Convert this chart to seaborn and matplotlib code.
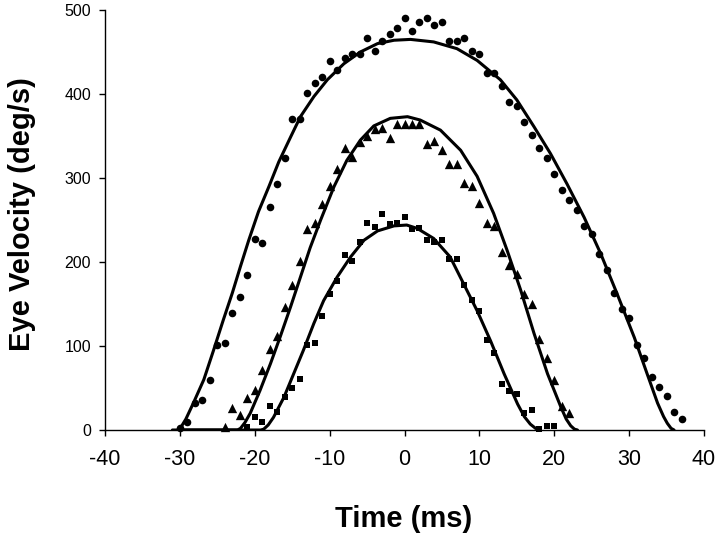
import seaborn as sns
from matplotlib import pyplot as plt

# measured saccade velocity samples (1 ms steps)
circle_t = list(range(-30, 38))
circle_v = [2, 9, 32, 36, 59, 101, 104, 139, 158, 185, 227, 223, 266, 293, 324, 370,
            370, 401, 413, 420, 439, 428, 443, 448, 448, 467, 451, 463, 471, 478, 490,
            475, 486, 490, 482, 486, 463, 463, 467, 451, 448, 425, 425, 410, 390, 386,
            367, 351, 336, 324, 305, 286, 274, 262, 243, 233, 209, 191, 163, 144, 133,
            101, 86, 63, 51, 40, 21, 13]

triangle_t = list(range(-24, 23))
triangle_v = [3, 26, 18, 38, 48, 71, 97, 112, 147, 173, 201, 239, 247, 269, 290, 311,
              336, 325, 343, 350, 358, 360, 348, 364, 364, 364, 364, 340, 344, 333, 317,
              317, 294, 290, 270, 247, 243, 212, 197, 186, 162, 150, 108, 86, 59, 28, 20]

square_t = list(range(-21, 21))
square_v = [3, 16, 9, 28, 21, 39, 50, 61, 101, 103, 136, 162, 177, 208, 201, 224, 246,
            242, 257, 245, 246, 253, 239, 241, 226, 224, 226, 204, 204, 173, 155, 142,
            107, 92, 55, 47, 43, 20, 24, 1, 5, 5]

# fitted curves
circle_fit_t = [-31, -30.8, -30.4, -29.95, -29.2, -28.2, -26.8, -25.5, -24.2, -23.0, -21.9,
                -20.8, -19.5, -18.1, -16.8, -15.2, -13.9, -12.1, -10.3, -8.1, -5.9, -3.6,
                -1.4, 0.8, 3.9, 7.0, 9.7, 12.8, 15.0, 17.3, 19.5, 21.7, 24.0, 26.2, 28.4,
                30.7, 32.4, 33.8, 34.6, 35.1, 35.6, 36.0]
circle_fit_v = [0, 0, 0, 2, 13, 32, 60, 95, 131, 163, 195, 226, 260, 290, 319, 349, 373, 397,
                417, 436, 450, 460, 464, 465, 462, 454, 440, 417, 393, 361, 329, 293, 253,
                210, 162, 110, 67, 32, 16, 8, 2, 0]

triangle_fit_t = [-30, -22.3, -21.9, -21.3, -20.6, -19.3, -17.9, -16.6, -15.2, -13.9, -12.6,
                  -11.2, -9.4, -7.7, -5.9, -4.1, -1.9, 0.4, 2.1, 4.8, 7.5, 9.7, 11.9, 13.7,
                  15.5, 17.3, 19.1, 20.9, 21.6, 22.2, 22.7, 23.1]
triangle_fit_v = [0, 0, 2, 9, 20, 47, 79, 111, 147, 182, 217, 250, 290, 321, 345, 362, 371,
                  373, 369, 357, 333, 302, 258, 214, 167, 115, 67, 27, 13, 5, 1, 0]

square_fit_t = [-30, -19.2, -18.8, -18.2, -17.5, -16.1, -14.8, -13.5, -12.1, -10.8, -9.0,
                -7.2, -5.4, -3.6, -1.4, 0.3, 1.7, 3.9, 6.1, 7.9, 9.7, 11.5, 13.3, 15.1,
                16.0, 16.8, 17.5, 18.0]
square_fit_v = [0, 0, 1, 6, 15, 39, 67, 95, 127, 154, 182, 206, 226, 237, 243, 244, 240,
                228, 206, 174, 142, 106, 67, 31, 16, 7, 2, 0]

sns.set_style("ticks")
plt.rcParams['font.family'] = ['Liberation Sans', 'DejaVu Sans']
plt.rcParams['axes.unicode_minus'] = False

fig = plt.figure(figsize=(7.2, 5.37), dpi=100)
ax = fig.add_axes([105 / 720, 1 - 430 / 537, 599 / 720, 420 / 537])

for ft, fv in [(circle_fit_t, circle_fit_v), (triangle_fit_t, triangle_fit_v),
               (square_fit_t, square_fit_v)]:
    sns.lineplot(x=ft, y=fv, ax=ax, color="black", linewidth=2.2, estimator=None)

sns.scatterplot(x=circle_t, y=circle_v, ax=ax, marker="o", s=30, color="black",
                linewidth=0, clip_on=False, zorder=3)
sns.scatterplot(x=triangle_t, y=triangle_v, ax=ax, marker="^", s=45, color="black",
                linewidth=0, clip_on=False, zorder=3)
sns.scatterplot(x=square_t, y=square_v, ax=ax, marker="s", s=24, color="black",
                linewidth=0, clip_on=False, zorder=3)

ax.set_xlim(-40, 40)
ax.set_ylim(0, 500)
ax.set_xticks(range(-40, 41, 10))
ax.set_yticks(range(0, 501, 100))
sns.despine(ax=ax)
for side in ["left", "bottom"]:
    ax.spines[side].set_color("black")
    ax.spines[side].set_linewidth(1.0)
ax.tick_params(axis="x", labelsize=15.5, length=4, width=1, color="black",
               labelcolor="black", pad=10)
ax.tick_params(axis="y", labelsize=11.5, length=4, width=1, color="black",
               labelcolor="black", pad=6)

ax.set_xlabel("Time (ms)", fontsize=21, fontweight="bold", color="black")
ax.set_ylabel("Eye Velocity (deg/s)", fontsize=21, fontweight="bold", color="black")
ax.xaxis.set_label_coords(0.499, -0.178)
ax.yaxis.set_label_coords(-0.116, 0.514)

fig.savefig("out.png", dpi=100)
